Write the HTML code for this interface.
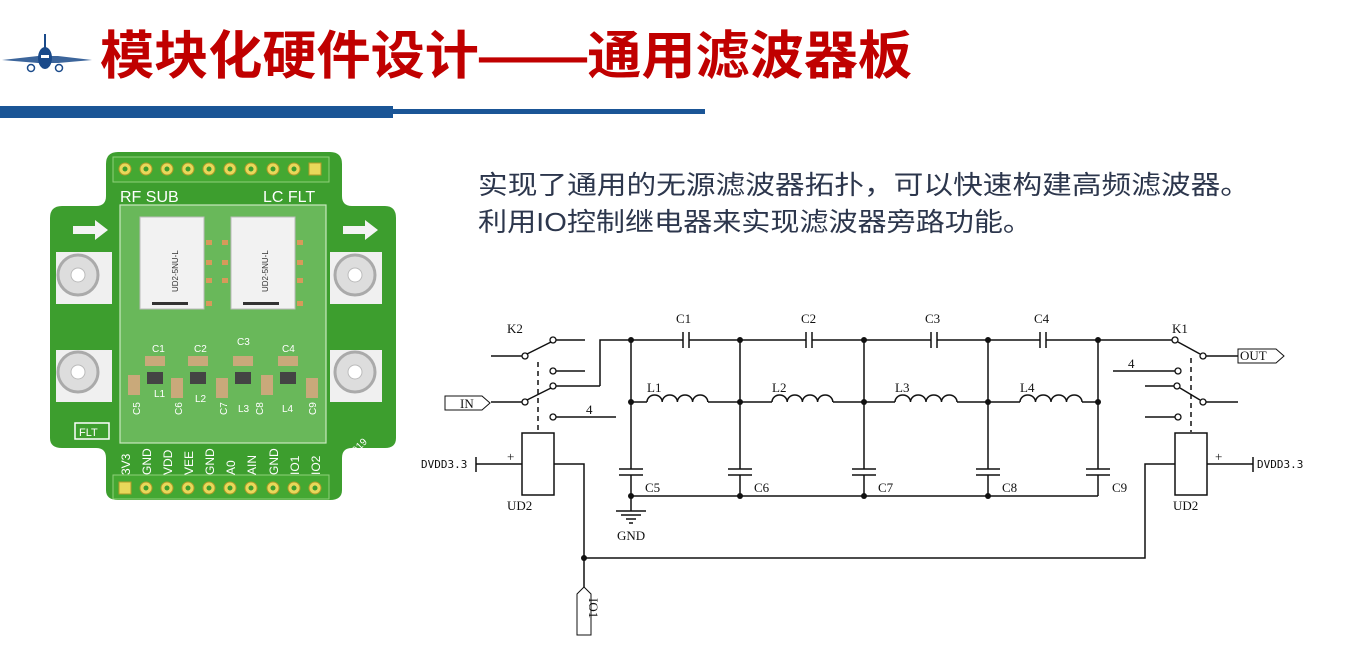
<!DOCTYPE html>
<html><head><meta charset="utf-8"><style>
html,body{margin:0;padding:0;background:#fff;}
svg{display:block;}
.s{font-family:"Liberation Serif","Noto Serif CJK SC",serif;font-size:13px;fill:#111;}
.m{font-family:"DejaVu Sans Mono","Liberation Mono",monospace;font-size:11px;fill:#111;}
.pk{font-family:"Liberation Sans",sans-serif;fill:#fff;}
</style></head><body>
<svg width="1371" height="663" viewBox="0 0 1371 663" xmlns="http://www.w3.org/2000/svg">
<!-- plane logo -->
<g fill="#1a4a8a">
<path d="M2 60 L38 56 L58 56 L92 60 L58 63 L38 63 Z" opacity="0.85"/>
<ellipse cx="45" cy="58" rx="7" ry="11"/>
<rect x="44" y="34" width="2" height="16"/>
<circle cx="31" cy="68" r="3.5" fill="none" stroke="#1a4a8a" stroke-width="1.5"/>
<circle cx="59" cy="68" r="3.5" fill="none" stroke="#1a4a8a" stroke-width="1.5"/>
</g>
<rect x="41" y="55" width="8" height="3" fill="#fff"/>
<!-- title -->
<text x="100" y="74" textLength="812" lengthAdjust="spacingAndGlyphs" font-family="'Liberation Sans','Noto Sans CJK SC',sans-serif" font-weight="bold" font-size="52" fill="#c00000">模块化硬件设计——通用滤波器板</text>
<rect x="0" y="106" width="393" height="12" fill="#1a5596"/>
<rect x="393" y="109" width="312" height="5" fill="#1a5596"/>
<!-- paragraph -->
<g font-family="'Liberation Sans','Noto Sans CJK SC',sans-serif" font-size="26" fill="#2c364c">
<text x="478" y="194" textLength="772" lengthAdjust="spacingAndGlyphs">实现了通用的无源滤波器拓扑，可以快速构建高频滤波器。</text>
<text x="478" y="231" textLength="554" lengthAdjust="spacingAndGlyphs">利用IO控制继电器来实现滤波器旁路功能。</text>
</g>
<!-- PCB -->
<path d="M118 152 L330 152 Q342 152 342 164 L342 196 Q342 206 352 206 L385 206 Q396 206 396 218 L396 438 Q396 448 385 448 L352 448 Q342 448 342 458 L342 490 Q342 500 330 500 L118 500 Q106 500 106 490 L106 458 Q106 448 96 448 L62 448 Q50 448 50 438 L50 218 Q50 206 62 206 L96 206 Q106 206 106 196 L106 164 Q106 152 118 152 Z" fill="#3d9e2e"/>
<rect x="113" y="157" width="216" height="25" fill="#44a832" stroke="#8fd07a" stroke-width="1"/>
<rect x="113" y="475" width="216" height="24" fill="#44a832" stroke="#8fd07a" stroke-width="1"/>
<rect x="120" y="205" width="206" height="238" fill="#69b85a" stroke="#c8e8be" stroke-width="1.2"/>
<g fill="#e8d85a" stroke="#b09a28" stroke-width="1">
<circle cx="125" cy="169" r="6"/><circle cx="146" cy="169" r="6"/><circle cx="167" cy="169" r="6"/><circle cx="188" cy="169" r="6"/><circle cx="209" cy="169" r="6"/><circle cx="230" cy="169" r="6"/><circle cx="251" cy="169" r="6"/><circle cx="273" cy="169" r="6"/><circle cx="294" cy="169" r="6"/>
<circle cx="146" cy="488" r="6"/><circle cx="167" cy="488" r="6"/><circle cx="188" cy="488" r="6"/><circle cx="209" cy="488" r="6"/><circle cx="230" cy="488" r="6"/><circle cx="251" cy="488" r="6"/><circle cx="273" cy="488" r="6"/><circle cx="294" cy="488" r="6"/><circle cx="315" cy="488" r="6"/>
<rect x="309" y="163" width="12" height="12"/><rect x="119" y="482" width="12" height="12"/>
</g>
<g fill="#3d9e2e"><circle cx="125" cy="169" r="2.5"/><circle cx="146" cy="169" r="2.5"/><circle cx="167" cy="169" r="2.5"/><circle cx="188" cy="169" r="2.5"/><circle cx="209" cy="169" r="2.5"/><circle cx="230" cy="169" r="2.5"/><circle cx="251" cy="169" r="2.5"/><circle cx="273" cy="169" r="2.5"/><circle cx="294" cy="169" r="2.5"/><circle cx="146" cy="488" r="2.5"/><circle cx="167" cy="488" r="2.5"/><circle cx="188" cy="488" r="2.5"/><circle cx="209" cy="488" r="2.5"/><circle cx="230" cy="488" r="2.5"/><circle cx="251" cy="488" r="2.5"/><circle cx="273" cy="488" r="2.5"/><circle cx="294" cy="488" r="2.5"/><circle cx="315" cy="488" r="2.5"/></g>
<text x="120" y="202" class="pk" font-size="16" fill="#f0f0f0">RF SUB</text>
<text x="263" y="202" class="pk" font-size="16">LC FLT</text>
<!-- relays -->
<rect x="140" y="217" width="64" height="92" fill="#f2f2f2" stroke="#bbb"/>
<rect x="231" y="217" width="64" height="92" fill="#f2f2f2" stroke="#bbb"/>
<rect x="152" y="302" width="36" height="3" fill="#333"/><rect x="243" y="302" width="36" height="3" fill="#333"/>
<text transform="translate(178,292) rotate(-90)" font-family="Liberation Sans,sans-serif" font-size="8" fill="#333">UD2-5NU-L</text>
<text transform="translate(268,292) rotate(-90)" font-family="Liberation Sans,sans-serif" font-size="8" fill="#333">UD2-5NU-L</text>
<g fill="#d79a5a"><rect x="206" y="240" width="6" height="5"/><rect x="206" y="260" width="6" height="5"/><rect x="206" y="278" width="6" height="5"/><rect x="206" y="301" width="6" height="5"/><rect x="297" y="240" width="6" height="5"/><rect x="297" y="260" width="6" height="5"/><rect x="297" y="278" width="6" height="5"/><rect x="297" y="301" width="6" height="5"/><rect x="222" y="240" width="6" height="5"/><rect x="222" y="260" width="6" height="5"/><rect x="222" y="278" width="6" height="5"/></g>
<!-- arrows -->
<path d="M73 226 L95 226 L95 220 L108 230 L95 240 L95 234 L73 234 Z" fill="#f4f4f4"/>
<path d="M343 226 L365 226 L365 220 L378 230 L365 240 L365 234 L343 234 Z" fill="#f4f4f4"/>
<!-- connectors -->
<g>
<rect x="56" y="252" width="56" height="52" fill="#f0f0f0"/><circle cx="78" cy="275" r="20" fill="#ddd" stroke="#aaa" stroke-width="3"/><circle cx="78" cy="275" r="7" fill="#fff" stroke="#bbb"/>
<rect x="56" y="350" width="56" height="52" fill="#f0f0f0"/><circle cx="78" cy="372" r="20" fill="#ddd" stroke="#aaa" stroke-width="3"/><circle cx="78" cy="372" r="7" fill="#fff" stroke="#bbb"/>
<rect x="330" y="252" width="52" height="52" fill="#f0f0f0"/><circle cx="355" cy="275" r="20" fill="#ddd" stroke="#aaa" stroke-width="3"/><circle cx="355" cy="275" r="7" fill="#fff" stroke="#bbb"/>
<rect x="330" y="350" width="52" height="52" fill="#f0f0f0"/><circle cx="355" cy="372" r="20" fill="#ddd" stroke="#aaa" stroke-width="3"/><circle cx="355" cy="372" r="7" fill="#fff" stroke="#bbb"/>
</g>
<!-- caps/inductors -->
<g fill="#c9a97a"><rect x="145" y="356" width="20" height="10"/><rect x="188" y="356" width="20" height="10"/><rect x="233" y="356" width="20" height="10"/><rect x="278" y="356" width="20" height="10"/>
<rect x="128" y="375" width="12" height="20"/><rect x="171" y="378" width="12" height="20"/><rect x="216" y="378" width="12" height="20"/><rect x="261" y="375" width="12" height="20"/><rect x="306" y="378" width="12" height="20"/></g>
<g fill="#444"><rect x="147" y="372" width="16" height="12"/><rect x="190" y="372" width="16" height="12"/><rect x="235" y="372" width="16" height="12"/><rect x="280" y="372" width="16" height="12"/></g>
<g class="pk" font-size="10"><text x="152" y="352">C1</text><text x="194" y="352">C2</text><text x="237" y="345">C3</text><text x="282" y="352">C4</text><text x="154" y="397">L1</text><text x="195" y="402">L2</text><text x="238" y="412">L3</text><text x="282" y="412">L4</text></g>
<g class="pk" font-size="10">
<text transform="translate(140,415) rotate(-90)">C5</text><text transform="translate(182,415) rotate(-90)">C6</text><text transform="translate(227,415) rotate(-90)">C7</text><text transform="translate(263,415) rotate(-90)">C8</text><text transform="translate(316,415) rotate(-90)">C9</text>
</g>
<rect x="75" y="423" width="34" height="16" fill="none" stroke="#fff" stroke-width="1.5"/>
<text x="79" y="436" class="pk" font-size="11">FLT</text>
<text transform="translate(352,458) rotate(-45)" class="pk" font-size="10" fill="#b8dcaa">2019</text>
<g class="pk" font-size="12">
<text transform="translate(130,475) rotate(-90)">3V3</text><text transform="translate(151,475) rotate(-90)">GND</text><text transform="translate(172,475) rotate(-90)">VDD</text><text transform="translate(193,475) rotate(-90)">VEE</text><text transform="translate(214,475) rotate(-90)">GND</text><text transform="translate(235,475) rotate(-90)">A0</text><text transform="translate(256,475) rotate(-90)">AIN</text><text transform="translate(278,475) rotate(-90)">GND</text><text transform="translate(299,475) rotate(-90)">IO1</text><text transform="translate(320,475) rotate(-90)">IO2</text>
</g>
<!-- schematic -->
<g stroke="#111" stroke-width="1.5" fill="none">
<!-- top rail -->
<path d="M600 386 L600 340 L683 340 M689 340 L806 340 M812 340 L931 340 M937 340 L1040 340 M1046 340 L1172 340"/>
<path d="M683 332 V348 M689 332 V348 M806 332 V348 M812 332 V348 M931 332 V348 M937 332 V348 M1040 332 V348 M1046 332 V348"/>
<!-- verticals -->
<path d="M631 340 V469 M631 475 V511 M740 340 V469 M740 475 V496 M864 340 V469 M864 475 V496 M988 340 V469 M988 475 V496 M1098 340 V469 M1098 475 V496"/>
<path d="M619 469 H643 M619 475 H643 M728 469 H752 M728 475 H752 M852 469 H876 M852 475 H876 M976 469 H1000 M976 475 H1000 M1086 469 H1110 M1086 475 H1110"/>
<path d="M631 496 H1098"/>
<!-- GND -->
<path d="M616 511 H646 M621 515 H641 M626 519 H636 M629 523 H633"/>
<!-- L row -->
<path d="M631 402 H647 M708 402 H772 M833 402 H895 M957 402 H1020 M1082 402 H1098"/>
<path d="M647 402 a7.6 7 0 0 1 15.2 0 a7.6 7 0 0 1 15.2 0 a7.6 7 0 0 1 15.2 0 a7.6 7 0 0 1 15.2 0"/>
<path d="M772 402 a7.6 7 0 0 1 15.2 0 a7.6 7 0 0 1 15.2 0 a7.6 7 0 0 1 15.2 0 a7.6 7 0 0 1 15.2 0"/>
<path d="M895 402 a7.75 7 0 0 1 15.5 0 a7.75 7 0 0 1 15.5 0 a7.75 7 0 0 1 15.5 0 a7.75 7 0 0 1 15.5 0"/>
<path d="M1020 402 a7.75 7 0 0 1 15.5 0 a7.75 7 0 0 1 15.5 0 a7.75 7 0 0 1 15.5 0 a7.75 7 0 0 1 15.5 0"/>
<!-- K2 -->
<path d="M491 356 H522 M527 354 L551 342 M556 340 H585 M556 371 H585 M556 386 H600 M491 402 H522 M527 400 L551 388 M556 417 H616"/>
<path d="M538 362 V432" stroke-dasharray="5,4"/>
<!-- IN tag -->
<path d="M445 396 H482 L490 403 L482 410 H445 Z" stroke-width="1"/>
<!-- UD2 left -->
<rect x="522" y="433" width="32" height="62"/>
<path d="M476 464 H522 M476 457 V472 M554 464 H584 V587 M584 558 H1145 V464 H1175"/>
<path d="M577 635 V594 L584 587 L591 594 V635 Z" stroke-width="1"/>
<!-- K1 -->
<path d="M1178 342 L1200 354 M1206 356 H1238 M1113 371 H1175 M1145 386 H1175 M1180 388 L1200 400 M1206 402 H1238 M1145 417 H1175"/>
<path d="M1191 358 V432" stroke-dasharray="5,4"/>
<path d="M1238 349 H1276 L1284 356 L1276 363 H1238 Z" stroke-width="1"/>
<rect x="1175" y="433" width="32" height="62"/>
<path d="M1207 464 H1253 M1253 457 V472"/>
</g>
<g fill="#fff" stroke="#111" stroke-width="1.3">
<circle cx="525" cy="356" r="3"/><circle cx="553" cy="340" r="3"/><circle cx="553" cy="371" r="3"/><circle cx="553" cy="386" r="3"/><circle cx="525" cy="402" r="3"/><circle cx="553" cy="417" r="3"/>
<circle cx="1175" cy="340" r="3"/><circle cx="1203" cy="356" r="3"/><circle cx="1178" cy="371" r="3"/><circle cx="1177" cy="386" r="3"/><circle cx="1203" cy="402" r="3"/><circle cx="1178" cy="417" r="3"/>
</g>
<g fill="#111">
<circle cx="631" cy="340" r="3"/><circle cx="740" cy="340" r="3"/><circle cx="864" cy="340" r="3"/><circle cx="988" cy="340" r="3"/><circle cx="1098" cy="340" r="3"/>
<circle cx="631" cy="402" r="3"/><circle cx="740" cy="402" r="3"/><circle cx="864" cy="402" r="3"/><circle cx="988" cy="402" r="3"/><circle cx="1098" cy="402" r="3"/>
<circle cx="631" cy="496" r="3"/><circle cx="740" cy="496" r="3"/><circle cx="864" cy="496" r="3"/><circle cx="988" cy="496" r="3"/>
<circle cx="584" cy="558" r="3"/>
</g>
<g class="s">
<text x="676" y="323">C1</text><text x="801" y="323">C2</text><text x="925" y="323">C3</text><text x="1034" y="323">C4</text>
<text x="647" y="392">L1</text><text x="772" y="392">L2</text><text x="895" y="392">L3</text><text x="1020" y="392">L4</text>
<text x="645" y="492">C5</text><text x="754" y="492">C6</text><text x="878" y="492">C7</text><text x="1002" y="492">C8</text><text x="1112" y="492">C9</text>
<text x="617" y="540">GND</text>
<text x="507" y="333">K2</text><text x="1172" y="333">K1</text>
<text x="586" y="414">4</text><text x="1128" y="368">4</text>
<text x="460" y="408">IN</text><text x="1240" y="360">OUT</text>
<text x="507" y="510">UD2</text><text x="1173" y="510">UD2</text>
<text x="507" y="461">+</text><text x="1215" y="461">+</text>
<text transform="translate(589,598) rotate(90)">IO1</text>
</g>
<g class="m"><text x="421" y="468">DVDD3.3</text><text x="1257" y="468">DVDD3.3</text></g>
</svg>
</body></html>
